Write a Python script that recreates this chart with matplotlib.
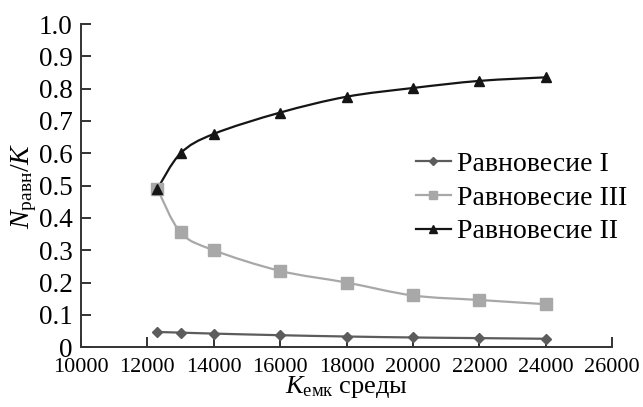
import numpy as np
import matplotlib
matplotlib.use("Agg")
import matplotlib.pyplot as plt
from matplotlib.path import Path
from matplotlib.patches import PathPatch

plt.rcParams['font.family'] = ['Liberation Serif', 'DejaVu Serif']
plt.rcParams['mathtext.fontset'] = 'custom'
plt.rcParams['mathtext.rm'] = 'Liberation Serif'
plt.rcParams['mathtext.it'] = 'Liberation Serif:italic'

# данные
k_values = [12300, 13000, 14000, 16000, 18000, 20000, 22000, 24000]
eq_1 = [0.047, 0.045, 0.042, 0.037, 0.033, 0.030, 0.028, 0.026]
eq_3 = [0.490, 0.355, 0.300, 0.236, 0.200, 0.160, 0.146, 0.133]
eq_2 = [0.490, 0.600, 0.660, 0.726, 0.775, 0.802, 0.824, 0.835]
labels = ['Равновесие I', 'Равновесие III', 'Равновесие II']


# сглаженная линия как в Excel (кривые Безье через точки)
def smooth_path(xs, ys):
    x = np.array(xs, float)
    y = np.array(ys, float)
    n = len(x)
    verts = [(x[0], y[0])]
    codes = [Path.MOVETO]
    for i in range(n - 1):
        x0, y0 = (x[i - 1], y[i - 1]) if i > 0 else (x[i], y[i])
        x3, y3 = (x[i + 2], y[i + 2]) if i + 2 < n else (x[i + 1], y[i + 1])
        c1 = (x[i] + (x[i + 1] - x0) / 6, y[i] + (y[i + 1] - y0) / 6)
        c2 = (x[i + 1] - (x3 - x[i]) / 6, y[i + 1] - (y3 - y[i]) / 6)
        verts += [c1, c2, (x[i + 1], y[i + 1])]
        codes += [Path.CURVE4] * 3
    return Path(verts, codes)


fig = plt.figure(figsize=(6.43, 4.07), dpi=100)
ax = fig.add_axes([0.126, 0.147, 0.826, 0.794])

series = [(eq_1, '#5c5c5c', 'D', 5), (eq_3, '#a8a8a8', 's', 8), (eq_2, '#151515', '^', 7.5)]
for (vals, col, mk, ms), lab in zip(series, labels):
    ax.add_patch(PathPatch(smooth_path(k_values, vals), fill=False, edgecolor=col, lw=1.6))
    ax.plot(k_values, vals, linestyle='none', marker=mk, color=col, markersize=ms)
    ax.plot([], [], '-', marker=mk, color=col, markersize=ms, lw=1.6, label=lab)

ax.set_xlim(10000, 26000)
ax.set_ylim(0, 1.0)
ax.set_xticks(range(10000, 26001, 2000))
ax.set_yticks(np.arange(0, 1.01, 0.1))
ax.set_yticklabels(['0'] + [f'{v:.1f}' for v in np.arange(0.1, 1.01, 0.1)])

for s in ['top', 'right']:
    ax.spines[s].set_visible(False)
for s in ['left', 'bottom']:
    ax.spines[s].set_linewidth(1.4)
    ax.spines[s].set_color('#333333')
ax.tick_params(direction='in', length=7, width=1.4, color='#333333')
ax.tick_params(axis='y', labelsize=19.5, pad=6)
ax.tick_params(axis='x', labelsize=16, pad=7.5)

ax.set_xlabel('$K_{\\mathrm{емк}}$ среды', fontsize=19, labelpad=-2)
ax.set_ylabel('$N_{\\mathrm{равн}}/K$', fontsize=20, labelpad=0)

ax.legend(loc='center left', bbox_to_anchor=(416 / 643, 1 - 198 / 407),
          bbox_transform=fig.transFigure, frameon=False, fontsize=20, borderpad=0,
          borderaxespad=0, handlelength=1.25, handletextpad=0.22, labelspacing=0.3,
          markerscale=0.75)

fig.savefig('out.png', dpi=100)
